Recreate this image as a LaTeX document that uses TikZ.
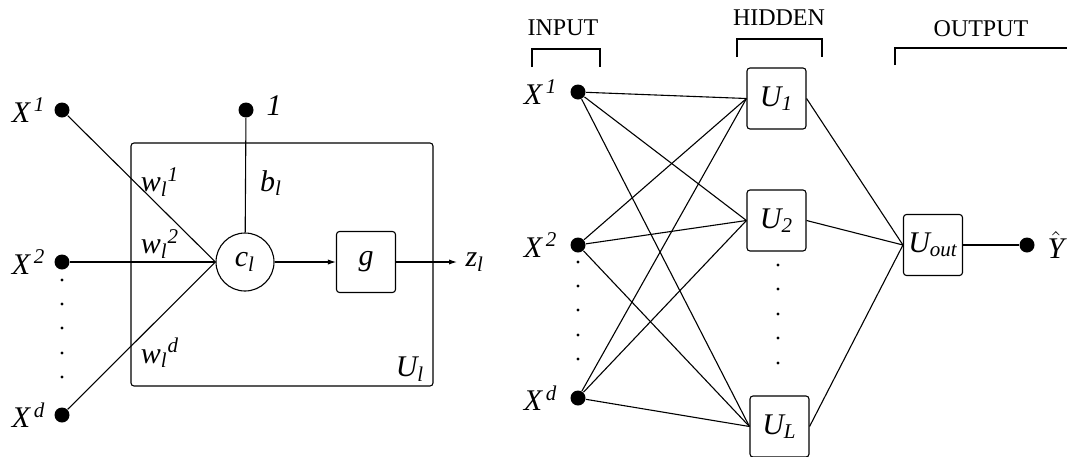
\documentclass[tikz,border=0pt]{standalone}
\usepackage{fontspec}
\setmainfont{Liberation Serif}
\usetikzlibrary{arrows.meta,positioning}

\tikzset{
  bigdot/.style={circle, fill, inner sep=0pt, minimum size=7.5pt},
  smalldot/.style={circle, fill, inner sep=0pt, minimum size=1.7pt},
  unitbox/.style={draw, rounded corners=1.5pt, inner sep=0pt, minimum width=29.5pt, minimum height=30.5pt},
  sumnode/.style={circle, draw, inner sep=0pt, minimum size=29pt},
  lbl/.style={inner sep=1pt},
  hdr/.style={font=\fontsize{12}{14}\selectfont},
}

\begin{document}
\begin{tikzpicture}[x=0.5pt, y=-0.5pt, line width=0.55pt, font=\fontsize{15}{17}\selectfont, >={Latex[length=4pt,width=2.6pt]}]
\useasboundingbox (0,0) rectangle (1067,456);

% single unit U_l
\draw[rounded corners=1.5pt] (131,143) rectangle (433,386);
\node[lbl] (ul) at (410,369) {$\mathit{U_l}$};
\node[sumnode] (c) at (245,262) {$\mathit{c_l}$};
\node[unitbox] (g) at (366,262) {$\mathit{g}$};
\node[bigdot] (x1) at (62,110) {};
\node[bigdot] (x2) at (62,262) {};
\node[bigdot] (xd) at (62,415) {};
\node[bigdot] (one) at (246,110) {};
\node[lbl, left=3pt of x1] (x1l) {$\mathit{X^{\,1}}$};
\node[lbl, left=3pt of x2] (x2l) {$\mathit{X^{\,2}}$};
\node[lbl, left=3pt of xd] (xdl) {$\mathit{X^{\,d}}$};
\node[lbl, right=5pt of one, yshift=2pt] (onel) {$\mathit{1}$};
\foreach \y [count=\i] in {280,304,328,353,377}
  \node[smalldot] (ld\i) at (62,\y) {};
\node[lbl] (w1) at (160,182) {$\mathit{w_l{}^1}$};
\node[lbl] (w2) at (160,244) {$\mathit{w_l{}^2}$};
\node[lbl] (wd) at (160,353) {$\mathit{w_l{}^d}$};
\node[lbl] (bl) at (271,183) {$\mathit{b_l}$};
\coordinate (zend) at (457,262);
\node[lbl, right=3pt of zend] (zl) {$\mathit{z_l}$};
\draw (x1) -- (c.west);
\draw (x2) -- (c.west);
\draw (xd) -- (c.west);
\draw (one) -- (c);
\draw[->] (c) -- (g);
\draw[->] (g) -- (zend);

% network
\node[hdr] (inp) at (563,28) {INPUT};
\node[hdr] (hid) at (779,18) {HIDDEN};
\node[hdr] (outp) at (981,29) {OUTPUT};
\draw (532,67) -- (532,49) -- (600,49) -- (600,67);
\draw (737,57) -- (737,39) -- (822,39) -- (822,57);
\draw (895,65) -- (895,48) -- (1067,48);

\node[bigdot] (i1) at (578,92) {};
\node[bigdot] (i2) at (578,245) {};
\node[bigdot] (id) at (578,398) {};
\node[lbl, left=5pt of i1] (i1l) {$\mathit{X^{\,1}}$};
\node[lbl, left=5pt of i2] (i2l) {$\mathit{X^{\,2}}$};
\node[lbl, left=5pt of id] (idl) {$\mathit{X^{\,d}}$};
\foreach \y [count=\i] in {262,286,310,335,359}
  \node[smalldot] (id\i) at (578,\y) {};

\node[unitbox] (h1) at (776.5,98.5) {$\mathit{U_1}$};
\node[unitbox] (h2) at (776.5,220.5) {$\mathit{U_2}$};
\node[unitbox] (hL) at (779.5,426.5) {$\mathit{U_L}$};
\foreach \y [count=\i] in {265,289,314,338,363}
  \node[smalldot] (hd\i) at (778,\y) {};

\node[unitbox] (o) at (933,245) {$\mathit{U_{out}}$};
\node[bigdot] (yh) at (1027,245) {};
\node[lbl, right=5pt of yh] (yl) {$\hat{\mathit{Y}}$};

\foreach \a in {i1,i2,id}
  \foreach \b in {h1,h2,hL}
    \draw (\a) -- (\b.west);
\foreach \b in {h1,h2,hL}
  \draw (\b.east) -- (o.west);
\draw (o) -- (yh);

\end{tikzpicture}
\end{document}
